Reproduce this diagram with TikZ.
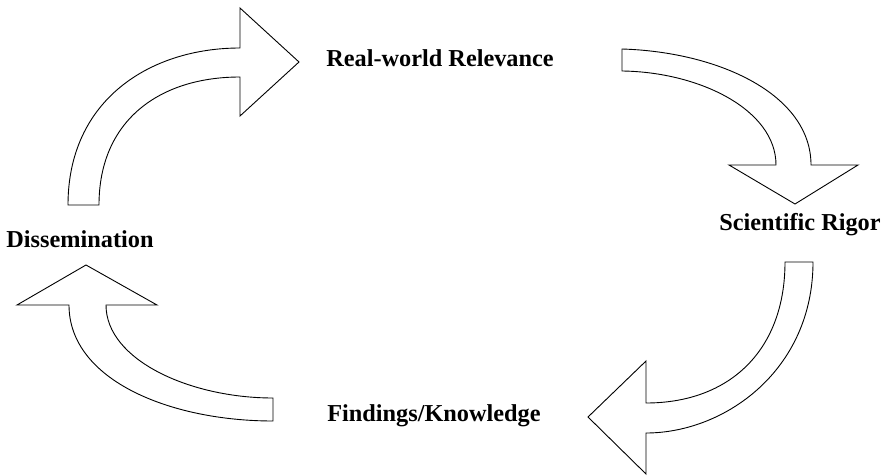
\documentclass[tikz,border=0pt]{standalone}
\usepackage{fontspec}
\setmainfont{Liberation Serif}
\usepackage{tikz}
\usetikzlibrary{positioning}

\begin{document}
\begin{tikzpicture}[
    x=1pt, y=-1pt,
    blockarrow/.style={draw=black, fill=white, line width=0.9pt, line join=miter},
    stage/.style={font=\bfseries\fontsize{24.3}{29}\selectfont, inner sep=0pt, anchor=base}
]
\useasboundingbox (0,0) rectangle (888,476);

% 四个阶段的标签
\node[stage] (relevance) at (440,67) {Real-world Relevance};
\node[stage] (rigor) at (800,230) {Scientific Rigor};
\node[stage] (findings) at (434,421) {Findings/Knowledge};
\node[stage] (dissem) at (80,247) {Dissemination};

% 弯曲的箭头
\draw[blockarrow] (68,205) .. controls (68,100) and (150,48) .. (240,48)
    -- (240,8) -- (299,62) -- (240,116) -- (240,77)
    .. controls (160,77) and (99,120) .. (99,205) -- cycle;
\draw[blockarrow] (622,49) .. controls (720,52) and (811,95) .. (811,165)
    -- (858,165) -- (795,204) -- (729,165) -- (776,165)
    .. controls (776,110) and (700,72) .. (622,71) -- cycle;
\draw[blockarrow] (813,262) .. controls (813,370) and (725,433) .. (646,433)
    -- (646,474) -- (588,417) -- (646,361) -- (646,403)
    .. controls (730,403) and (785,350) .. (785,262) -- cycle;
\draw[blockarrow] (273,421) .. controls (170,421) and (69,380) .. (69,305)
    -- (17,305) -- (86,265) -- (157,305) -- (106,305)
    .. controls (106,360) and (190,398) .. (273,398) -- cycle;

\end{tikzpicture}
\end{document}
